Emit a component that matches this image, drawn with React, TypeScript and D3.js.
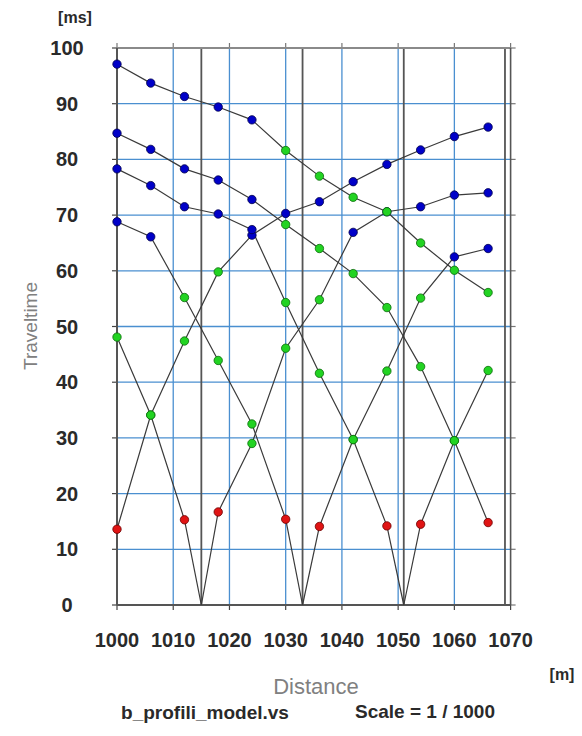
import React from 'react';
import * as d3 from 'd3';

// ---- data ----
const geophones = [1000, 1006, 1012, 1018, 1024, 1030, 1036, 1042, 1048, 1054, 1060, 1066];
const shotPositions = [997, 1015, 1033, 1051, 1069, 1087];
const shotsWithOrigin = [1015, 1033, 1051];
const shotLines = [1015, 1033, 1051, 1069];

// traveltimes (ms) per shot, aligned with geophones
const times997 = [13.6, 34.1, 47.4, 59.8, 66.4, 70.3, 72.4, 76.0, 79.1, 81.7, 84.1, 85.8];
const times1015 = [48.1, 34.1, 15.3, 16.7, 29.0, 46.1, 54.8, 66.9, 70.6, 71.5, 73.6, 74.0];
const times1033 = [68.8, 66.1, 55.2, 43.9, 32.5, 15.4, 14.1, 29.7, 42.0, 55.1, 62.5, 64.0];
const times1051 = [78.3, 75.3, 71.5, 70.2, 67.4, 54.3, 41.6, 29.7, 14.2, 14.5, 29.5, 42.1];
const times1069 = [84.7, 81.8, 78.3, 76.3, 72.8, 68.3, 64.0, 59.5, 53.4, 42.8, 29.5, 14.8];
const times1087 = [97.1, 93.7, 91.3, 89.4, 87.1, 81.6, 77.0, 73.2, 70.6, 65.0, 60.1, 56.1];

// arrival phase: 0 = direct, 1 = first refractor, 2 = second refractor
const phase997 = [0, 1, 1, 1, 2, 2, 2, 2, 2, 2, 2, 2];
const phase1015 = [1, 1, 0, 0, 1, 1, 1, 2, 2, 2, 2, 2];
const phase1033 = [2, 2, 1, 1, 1, 0, 0, 1, 1, 1, 2, 2];
const phase1051 = [2, 2, 2, 2, 2, 1, 1, 1, 0, 0, 1, 1];
const phase1069 = [2, 2, 2, 2, 2, 1, 1, 1, 1, 1, 1, 0];
const phase1087 = [2, 2, 2, 2, 2, 1, 1, 1, 1, 1, 1, 1];

const shotTimes = [times997, times1015, times1033, times1051, times1069, times1087];
const shotPhases = [phase997, phase1015, phase1033, phase1051, phase1069, phase1087];

const xTicks = [1000, 1010, 1020, 1030, 1040, 1050, 1060, 1070];
const yTicks = [0, 10, 20, 30, 40, 50, 60, 70, 80, 90, 100];

const phaseFill = ['#e01414', '#22d322', '#0000c8'];
const phaseStroke = ['#6a0000', '#0a6a0a', '#00004a'];

export default function App() {
  const x = d3.scaleLinear().domain([1000, 1070]).range([117, 510.6]);
  const y = d3.scaleLinear().domain([0, 100]).range([605, 48]);
  const line = d3.line<[number, number]>().x(d => x(d[0])).y(d => y(d[1]));

  const branches: [number, number][][] = [];
  const markers: { gx: number; t: number; p: number }[] = [];
  shotPositions.forEach((s, si) => {
    const t = shotTimes[si];
    const ph = shotPhases[si];
    const left: [number, number][] = [];
    const right: [number, number][] = [];
    geophones.forEach((g, gi) => {
      if (t[gi] == null) return;
      markers.push({ gx: g, t: t[gi], p: ph[gi] });
      if (g < s) left.push([g, t[gi]]);
      else right.push([g, t[gi]]);
    });
    left.reverse();
    if (shotsWithOrigin.includes(s)) {
      left.unshift([s, 0]);
      right.unshift([s, 0]);
    }
    if (left.length > 1) branches.push(left);
    if (right.length > 1) branches.push(right);
  });
  markers.sort((a, b) => b.p - a.p);

  const [x0, x1] = x.range();
  const [yb, yt] = y.range();
  const font = '"Liberation Sans", Arial, sans-serif';

  return (
    <svg width={582} height={736} style={{ position: 'absolute', left: 0, top: 0, background: '#fff' }}>
      {/* grid */}
      {yTicks.slice(1, -1).map(v => (
        <line key={'hy' + v} x1={x0} x2={x1} y1={y(v)} y2={y(v)} stroke="#4a8fd0" strokeWidth={1.3} />
      ))}
      {xTicks.slice(1, -1).map(v => (
        <line key={'vx' + v} x1={x(v)} x2={x(v)} y1={yt} y2={yb} stroke="#4a8fd0" strokeWidth={1.3} />
      ))}
      {/* ticks */}
      {yTicks.map(v => (
        <g key={'ty' + v}>
          <line x1={x0 - 5} x2={x0} y1={y(v)} y2={y(v)} stroke="#444" strokeWidth={1.2} />
          <line x1={x1} x2={x1 + 5} y1={y(v)} y2={y(v)} stroke="#777" strokeWidth={1.2} />
        </g>
      ))}
      {xTicks.map(v => (
        <g key={'tx' + v}>
          <line x1={x(v)} x2={x(v)} y1={yb} y2={yb + 5} stroke="#444" strokeWidth={1.2} />
          <line x1={x(v)} x2={x(v)} y1={yt - 5} y2={yt} stroke="#777" strokeWidth={1.2} />
        </g>
      ))}
      {/* shot lines */}
      {shotLines.map(s => (
        <line key={'s' + s} x1={x(s)} x2={x(s)} y1={yt} y2={yb} stroke="#555" strokeWidth={1.8} />
      ))}
      {/* frame */}
      <line x1={x0} x2={x1} y1={yt} y2={yt} stroke="#8a8a8a" strokeWidth={2} />
      <line x1={x0} x2={x1} y1={yb} y2={yb} stroke="#555" strokeWidth={2} />
      <line x1={x0} x2={x0} y1={yt} y2={yb} stroke="#555" strokeWidth={2} />
      <line x1={x1} x2={x1} y1={yt} y2={yb} stroke="#555" strokeWidth={1.6} />
      {/* traveltime curves */}
      {branches.map((b, i) => (
        <path key={'b' + i} d={line(b) || ''} fill="none" stroke="#3a3a3a" strokeWidth={1.2} />
      ))}
      {markers.map((m, i) => (
        <circle key={'m' + i} cx={x(m.gx)} cy={y(m.t)} r={4.2} fill={phaseFill[m.p]} stroke={phaseStroke[m.p]} strokeWidth={0.8} />
      ))}
      {/* tick labels */}
      {yTicks.map(v => (
        <text key={'ly' + v} x={67} y={y(v) + 7} textAnchor="middle" fontFamily={font} fontWeight="bold" fontSize={20} fill="#2a2a2a">
          {v}
        </text>
      ))}
      {xTicks.map(v => (
        <text key={'lx' + v} x={x(v)} y={647} textAnchor="middle" fontFamily={font} fontWeight="bold" fontSize={20} fill="#2a2a2a">
          {v}
        </text>
      ))}
      <text x={75} y={23} textAnchor="middle" fontFamily={font} fontWeight="bold" fontSize={16} fill="#2a2a2a">[ms]</text>
      <text x={562} y={680} textAnchor="middle" fontFamily={font} fontWeight="bold" fontSize={16} fill="#2a2a2a">[m]</text>
      <text x={316} y={694} textAnchor="middle" fontFamily={font} fontSize={22} fill="#808080">Distance</text>
      <text transform="translate(37,326) rotate(-90)" textAnchor="middle" fontFamily={font} fontSize={19} fill="#808080">Traveltime</text>
      <text x={205} y={719} textAnchor="middle" fontFamily={font} fontWeight="bold" fontSize={19} fill="#2a2a2a">b_profili_model.vs</text>
      <text x={425} y={718} textAnchor="middle" fontFamily={font} fontWeight="bold" fontSize={19} fill="#2a2a2a">Scale = 1 / 1000</text>
    </svg>
  );
}
